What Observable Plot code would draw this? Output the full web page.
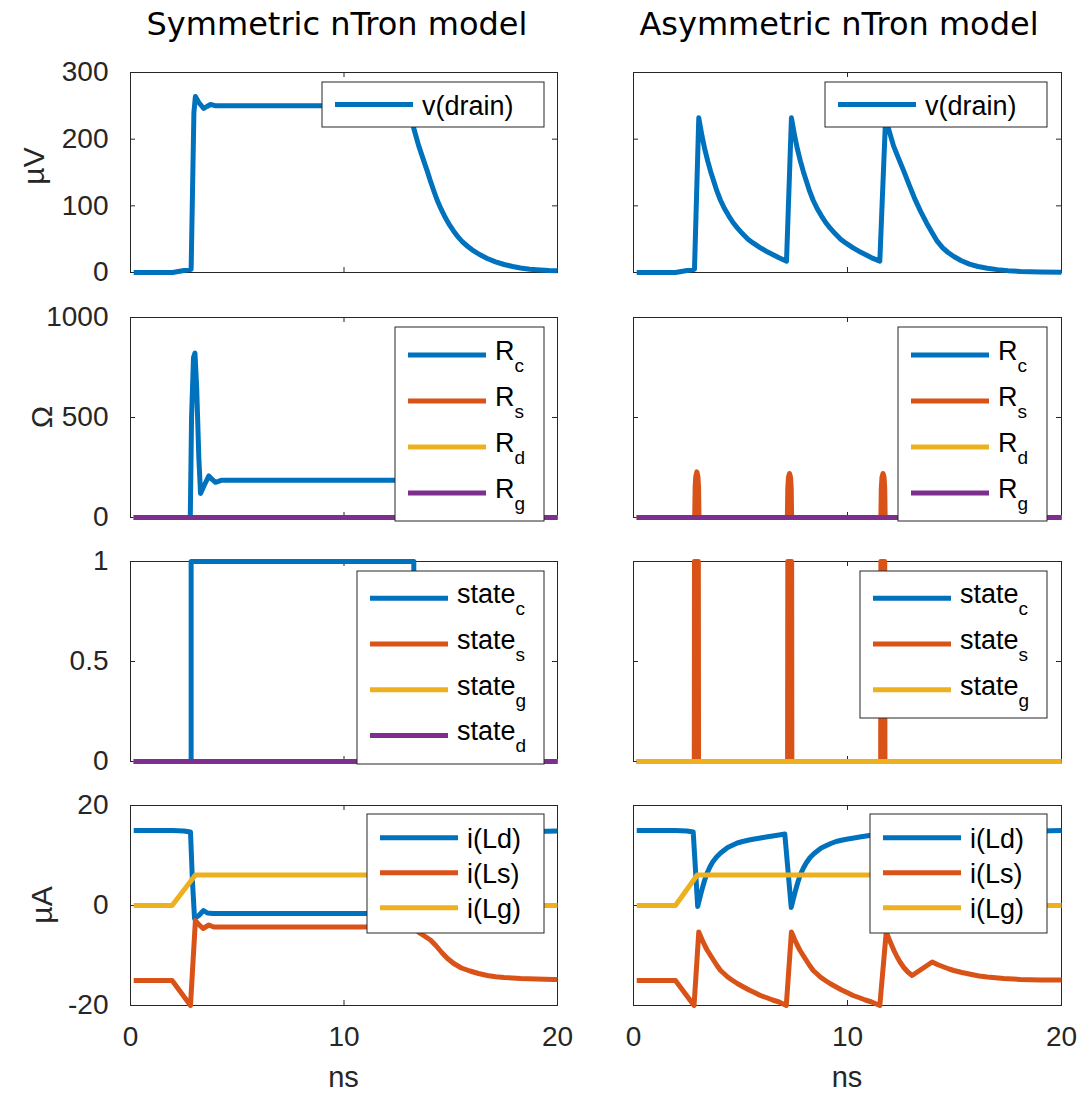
<!DOCTYPE html>
<html><head><meta charset="utf-8">
<script src="https://cdn.jsdelivr.net/npm/d3@7"></script>
<script src="https://cdn.jsdelivr.net/npm/@observablehq/plot@0.6"></script>
<style>
html,body{margin:0;padding:0;background:#fff;}
#fig{position:relative;width:1078px;height:1095px;overflow:hidden;background:#fff;}
#fig > .panel{position:absolute;}
#fig > svg.overlay{position:absolute;left:0;top:0;}
</style></head><body><div id="fig"></div>
<script>
// ---------- tick labels ----------
const xTicks = [0, 10, 20];
const vTicks = [0, 100, 200, 300];
const rTicks = [0, 500, 1000];
const sTicks = [0, 0.5, 1];
const iTicks = [-20, 0, 20];

// ---------- titles / labels ----------
const colTitles = ["Symmetric nTron model", "Asymmetric nTron model"];
const rowLabels = ["µV", "Ω", "", "µA"];
const xLabel = "ns";

// ---------- legends ----------
const legendV = ["v(drain)"];
const legendR = ["R_c", "R_s", "R_d", "R_g"];
const legendStateSym = ["state_c", "state_s", "state_g", "state_d"];
const legendStateAsym = ["state_c", "state_s", "state_g"];
const legendI = ["i(Ld)", "i(Ls)", "i(Lg)"];

// ---------- zero series ----------
const zeroT = [0.15, 20];
const zeroV = [0, 0];

// ---------- Symmetric model ----------
const symVT = [0.15, 1.97, 2.84, 2.97, 3.04, 3.2, 3.43, 3.58, 3.75, 4.0, 13.05, 13.27, 13.5, 13.74, 13.9, 14.05, 14.2, 14.37, 14.55, 14.75, 14.95, 15.14, 15.35, 15.55, 15.8, 16.0, 16.35, 16.71, 17.1, 17.5, 17.9, 18.27, 18.7, 19.2, 19.6, 20];
const symV  = [0, 0, 5, 240, 264, 255, 246, 249, 252, 250, 250, 216, 190, 167, 152, 137, 123, 108, 95, 82, 71, 62, 53, 46, 39, 34, 27, 21, 16, 12, 9, 6.8, 5, 3.8, 3, 2.5];

const symRcT = [0.15, 2.8, 2.86, 2.95, 3.02, 3.1, 3.2, 3.28, 3.45, 3.67, 3.85, 3.98, 4.25, 13.27, 13.28, 20];
const symRc  = [0, 0, 500, 800, 822, 650, 300, 120, 160, 208, 188, 176, 186, 186, 0, 0];

const symStateCT = [0.15, 2.84, 2.84, 13.27, 13.27, 20];
const symStateC  = [0, 0, 1, 1, 0, 0];

const symLdT = [0.15, 1.97, 2.5, 2.81, 2.9, 3.0, 3.2, 3.42, 3.6, 3.85, 13.05, 13.27, 13.5, 13.8, 14.05, 14.4, 14.75, 15.14, 15.7, 16.71, 17.5, 18.27, 19.0, 20];
const symLd  = [15, 15, 14.9, 14.7, 5, -2.6, -2.0, -1.0, -1.5, -1.6, -1.6, -1.3, 0.5, 3.5, 6.0, 8.5, 10.2, 11.6, 13.0, 14.0, 14.4, 14.6, 14.8, 14.9];

const symLsT = [0.15, 1.95, 2.81, 3.04, 3.2, 3.4, 3.67, 3.9, 13.05, 13.3, 13.58, 13.8, 14.05, 14.3, 14.6, 14.85, 15.14, 15.5, 15.9, 16.3, 16.71, 17.1, 17.5, 18.27, 19.0, 19.81, 20];
const symLs  = [-15, -15, -20, -3.0, -3.8, -4.6, -3.9, -4.3, -4.3, -4.6, -5.6, -6.2, -6.9, -8.0, -9.5, -10.6, -11.6, -12.5, -13.1, -13.6, -14.0, -14.25, -14.4, -14.6, -14.7, -14.8, -14.8];

const symLgT = [0.15, 1.95, 3.04, 13.0, 14.0, 20];
const symLg  = [0, 0, 6.1, 6.1, 0, 0];

// ---------- Asymmetric model ----------
const asymVT = [0.15, 1.96, 2.85, 3.05, 3.2, 3.33, 3.47, 3.6, 3.75, 3.9, 4.07, 4.25, 4.45, 4.65, 4.85, 5.1, 5.35, 5.6, 5.93, 6.2, 6.5, 6.8, 7.15,
  7.38, 7.53, 7.66, 7.8, 7.93, 8.08, 8.23, 8.4, 8.58, 8.78, 8.98, 9.18, 9.43, 9.68, 9.93, 10.26, 10.53, 10.83, 11.13, 11.51,
  11.78, 11.95, 12.15, 12.4, 12.63, 12.9, 13.15, 13.41, 13.7, 13.95, 14.19, 14.45, 14.7, 14.97, 15.3, 15.7, 16.1, 16.53, 17.0, 17.5, 18.08, 19.0, 20];
const asymV  = [0, 0, 5, 232, 205, 185, 167, 152, 137, 122, 108, 96, 85, 75, 67, 58, 50, 44, 37, 32, 27, 22, 17,
  232, 205, 185, 167, 152, 137, 122, 108, 96, 85, 75, 67, 58, 50, 44, 37, 32, 27, 22, 17,
  232, 212, 190, 170, 152, 130, 110, 92, 74, 60, 47, 37, 30, 24, 18, 12.5, 9, 6.5, 4.3, 2.8, 1.5, 0.9, 0.5];

const asymRsT = [0.15, 2.86, 2.88, 2.91, 2.96, 3.01, 3.04, 3.06, 7.19, 7.21, 7.24, 7.29, 7.34, 7.37, 7.39, 11.56, 11.58, 11.61, 11.66, 11.71, 11.74, 11.76, 20];
const asymRs  = [0, 0, 150, 205, 228, 205, 150, 0, 0, 145, 200, 220, 200, 145, 0, 0, 145, 200, 220, 200, 145, 0, 0];

const asymStateST = [0.15, 2.84, 2.85, 3.03, 3.04, 7.2, 7.21, 7.39, 7.4, 11.55, 11.56, 11.74, 11.75, 20];
const asymStateS  = [0, 0, 1, 1, 0, 0, 1, 1, 0, 0, 1, 1, 0, 0];

const asymLdT = [0.15, 1.96, 2.5, 2.79, 3.0, 3.1, 3.2, 3.32, 3.44, 3.57, 3.7, 3.88, 4.07, 4.25, 4.4, 4.6, 4.85, 5.1, 5.4, 5.65, 5.93, 6.2, 6.5, 6.8, 7.07,
  7.37, 7.47, 7.57, 7.69, 7.81, 7.94, 8.07, 8.25, 8.44, 8.62, 8.77, 8.97, 9.22, 9.47, 9.77, 10.02, 10.3, 10.57, 10.87, 11.17, 11.44,
  11.74, 12.0, 12.32, 12.63, 13.02, 13.41, 13.96, 14.5, 14.97, 15.8, 16.53, 17.3, 18.08, 19.0, 20];
const asymLd  = [15, 15, 14.9, 14.7, -0.2, 1.5, 3.2, 5.0, 6.5, 7.7, 8.7, 9.7, 10.5, 11.1, 11.6, 12.0, 12.5, 12.8, 13.1, 13.3, 13.5, 13.7, 13.9, 14.1, 14.3,
  -0.4, 1.3, 3.0, 4.8, 6.3, 7.5, 8.5, 9.6, 10.4, 11.0, 11.5, 11.9, 12.4, 12.8, 13.1, 13.3, 13.5, 13.7, 13.9, 14.1, 14.3,
  -0.4, 2.5, 4.3, 6.3, 8.0, 9.8, 11.3, 12.3, 13.0, 13.8, 14.3, 14.6, 14.8, 14.9, 15];

const asymLsT = [0.15, 1.96, 2.83, 3.05, 3.2, 3.32, 3.44, 3.6, 3.75, 3.9, 4.07, 4.25, 4.4, 4.6, 4.85, 5.1, 5.4, 5.65, 5.93, 6.2, 6.5, 6.8, 7.14,
  7.38, 7.53, 7.65, 7.77, 7.93, 8.08, 8.23, 8.4, 8.58, 8.73, 8.93, 9.18, 9.43, 9.73, 9.98, 10.26, 10.53, 10.83, 11.13, 11.51,
  11.81, 11.93, 12.05, 12.18, 12.32, 12.47, 12.63, 12.82, 13.02, 13.96, 14.2, 14.5, 14.75, 14.97, 15.35, 15.8, 16.15, 16.53, 17.3, 18.08, 19.0, 20];
const asymLs  = [-15, -15, -20, -5.3, -6.8, -7.9, -8.9, -10.0, -11.0, -12.0, -13.0, -13.7, -14.3, -14.9, -15.6, -16.2, -16.9, -17.4, -18.0, -18.4, -18.9, -19.3, -20,
  -5.3, -6.8, -7.9, -8.9, -10.0, -11.0, -12.0, -13.0, -13.7, -14.3, -14.9, -15.6, -16.2, -16.9, -17.4, -18.0, -18.4, -18.9, -19.3, -20,
  -5.3, -6.6, -7.8, -9.1, -10.3, -11.4, -12.4, -13.3, -14.0, -11.3, -11.8, -12.3, -12.7, -13.0, -13.4, -13.8, -14.1, -14.3, -14.6, -14.8, -14.9, -14.9];

const asymLgT = [0.15, 1.96, 2.98, 13.05, 13.96, 20];
const asymLg  = [0, 0, 6.1, 6.1, 0, 0];

// ---------- styling ----------
const COLORS = ["#0072BD", "#D95319", "#EDB120", "#7E2F8E"];
const AXIS = "#262626";
const FONT = "'Liberation Sans', Arial, Helvetica, sans-serif";
const TITLEFONT = "'DejaVu Sans', sans-serif";
const FRAME = {left: [130, 633], width: [427, 428], top: [72, 317, 561, 805], height: 200};
const TICK = 5;
const LEG = [
  {w: 222, h: [45, 45], top: 10, first: 22.5, step: 45},
  {w: 149, h: [194, 194], top: 10, first: 28, step: 46},
  {w: 187, h: [193, 147], top: 10, first: 27.3, step: 45.7},
  {w: 177, h: [119, 119], top: 9, first: 23.7, step: 35}
];

const S = (t, v, c) => ({t, v, c});
const panels = [
  {row: 0, col: 0, yDomain: [0, 300], yTicks: vTicks, legend: legendV, series: [S(symVT, symV, 0)]},
  {row: 0, col: 1, yDomain: [0, 300], yTicks: vTicks, legend: legendV, series: [S(asymVT, asymV, 0)]},
  {row: 1, col: 0, yDomain: [0, 1000], yTicks: rTicks, legend: legendR,
    series: [S(symRcT, symRc, 0), S(zeroT, zeroV, 1), S(zeroT, zeroV, 2), S(zeroT, zeroV, 3)]},
  {row: 1, col: 1, yDomain: [0, 1000], yTicks: rTicks, legend: legendR,
    series: [S(zeroT, zeroV, 0), S(asymRsT, asymRs, 1), S(zeroT, zeroV, 2), S(zeroT, zeroV, 3)]},
  {row: 2, col: 0, yDomain: [0, 1], yTicks: sTicks, legend: legendStateSym,
    series: [S(symStateCT, symStateC, 0), S(zeroT, zeroV, 1), S(zeroT, zeroV, 2), S(zeroT, zeroV, 3)]},
  {row: 2, col: 1, yDomain: [0, 1], yTicks: sTicks, legend: legendStateAsym,
    series: [S(zeroT, zeroV, 0), S(asymStateST, asymStateS, 1), S(zeroT, zeroV, 2)]},
  {row: 3, col: 0, yDomain: [-20, 20], yTicks: iTicks, legend: legendI,
    series: [S(symLdT, symLd, 0), S(symLsT, symLs, 1), S(symLgT, symLg, 2)]},
  {row: 3, col: 1, yDomain: [-20, 20], yTicks: iTicks, legend: legendI,
    series: [S(asymLdT, asymLd, 0), S(asymLsT, asymLs, 1), S(asymLgT, asymLg, 2)]}
];

const fig = document.getElementById("fig");

for (const p of panels) {
  const {row, col} = p;
  const w = FRAME.width[col], h = FRAME.height;
  const mL = col === 0 ? 113 : 10, mR = 10, mT = 10, mB = row === 3 ? 60 : 10;
  const marks = [
    Plot.tickY(p.yTicks, {y: d => d, stroke: AXIS, insetRight: w - TICK}),
    Plot.tickY(p.yTicks, {y: d => d, stroke: AXIS, insetLeft: w - TICK}),
    Plot.tickX(xTicks, {x: d => d, stroke: AXIS, insetBottom: h - TICK}),
    Plot.tickX(xTicks, {x: d => d, stroke: AXIS, insetTop: h - TICK}),
    Plot.frame({stroke: AXIS, strokeWidth: 1}),
    ...p.series.map(s => Plot.line(d3.zip(s.t, s.v).map(([t, v]) => ({t, v})), {
      x: "t", y: "v", stroke: COLORS[s.c], strokeWidth: 5,
      strokeLinejoin: "round", strokeLinecap: "butt"
    }))
  ];
  if (col === 0) marks.push(Plot.axisY({ticks: p.yTicks, tickSize: 0, tickPadding: 22, fontSize: 28, tickFormat: d => String(d), label: null}));
  if (row === 3) marks.push(Plot.axisX({ticks: xTicks, tickSize: 0, tickPadding: 21, fontSize: 28, tickFormat: d => String(d), label: null}));
  const svg = Plot.plot({
    width: w + mL + mR, height: h + mT + mB,
    marginLeft: mL, marginRight: mR, marginTop: mT, marginBottom: mB,
    x: {domain: [0, 20], axis: row === 3 ? undefined : null},
    y: {domain: p.yDomain, axis: col === 0 ? undefined : null},
    style: {background: "transparent", overflow: "visible", fontFamily: FONT, fontSize: "28px", color: AXIS},
    marks
  });
  const div = document.createElement("div");
  div.className = "panel";
  div.style.left = (FRAME.left[col] - mL) + "px";
  div.style.top = (FRAME.top[row] - mT) + "px";
  div.appendChild(svg);
  fig.appendChild(div);
}

// ---------- overlay: titles, axis labels, legends ----------
const ov = d3.select(fig).append("svg").attr("class", "overlay")
  .attr("width", 1078).attr("height", 1095);

[337, 839].forEach((cx, i) => {
  ov.append("text").attr("x", cx).attr("y", 35).attr("text-anchor", "middle")
    .attr("font-family", TITLEFONT).attr("font-size", 32).attr("fill", "#000")
    .text(colTitles[i]);
});

const labelX = [33, 41, 41, 41];
rowLabels.forEach((lab, r) => {
  if (!lab) return;
  const cy = r === 0 ? 166 : FRAME.top[r] + FRAME.height / 2;
  ov.append("text").attr("transform", `translate(${labelX[r]},${cy}) rotate(-90)`)
    .attr("text-anchor", "middle").attr("dominant-baseline", "central")
    .attr("font-family", FONT).attr("font-size", 30).attr("fill", AXIS).text(lab);
});

[0, 1].forEach(col => {
  ov.append("text").attr("x", FRAME.left[col] + FRAME.width[col] / 2).attr("y", 1087)
    .attr("text-anchor", "middle").attr("font-family", FONT).attr("font-size", 29)
    .attr("fill", AXIS).text(xLabel);
});

for (const p of panels) {
  const {row, col} = p;
  const L = LEG[row];
  const lh = L.h[col];
  const lx = FRAME.left[col] + FRAME.width[col] - (col === 0 ? 13 : 14) - L.w;
  const ly = FRAME.top[row] + L.top;
  const g = ov.append("g");
  g.append("rect").attr("x", lx).attr("y", ly).attr("width", L.w).attr("height", lh)
    .attr("fill", "#fff").attr("stroke", AXIS).attr("stroke-width", 1);
  p.legend.forEach((lab, i) => {
    const cy = ly + L.first + i * L.step;
    const col_ = COLORS[p.series[i].c];
    g.append("line").attr("x1", lx + 13).attr("x2", lx + 91).attr("y1", cy).attr("y2", cy)
      .attr("stroke", col_).attr("stroke-width", 5);
    const parts = lab.split("_");
    const t = g.append("text").attr("x", lx + 100).attr("y", cy + (parts.length > 1 ? 5 : 10))
      .attr("font-family", FONT).attr("font-size", 27).attr("fill", "#000");
    t.append("tspan").text(parts[0]);
    if (parts.length > 1) {
      t.append("tspan").attr("dy", 12).attr("font-size", 19).text(parts[1]);
    }
  });
}
</script></body></html>
